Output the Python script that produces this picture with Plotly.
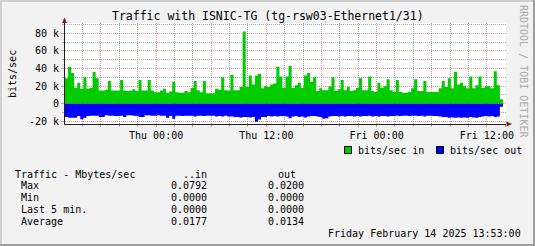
import plotly.graph_objects as go
import pandas as pd

# ---------------- data ----------------
title_text = "Traffic with ISNIC-TG (tg-rsw03-Ethernet1/31)"
start_time = "2025-02-12 14:05"
end_time = "2025-02-14 14:05"
step_minutes = 20

# bits/sec in (thousands)
green_k = [
    29, 42, 35, 18, 24, 17, 30, 17, 18, 36,
    29, 15, 15, 16, 26, 15, 15, 15, 27, 15,
    14.5, 15, 16.5, 14.5, 27, 15, 15, 27, 15, 13,
    13, 15, 17, 12.5, 14, 25, 13, 12.5, 12.5, 14.5,
    13, 18, 26, 15.5, 13, 26, 12, 12, 12, 17,
    16, 30, 15.5, 15, 33, 15.5, 15.5, 19, 82, 19,
    32, 22, 32, 34, 17.5, 20, 19, 22, 23, 42,
    31, 18, 31, 43, 18, 21, 24, 18, 32, 35,
    25, 30, 14.5, 17.5, 15.5, 15.5, 19.5, 30, 14.5, 16.5,
    27, 15.5, 19, 14.5, 15.5, 18, 29, 15.5, 15.5, 31,
    14.5, 13.5, 24, 18, 20, 28, 15.5, 13.5, 27, 13.5,
    12.5, 12.5, 13.5, 17.5, 28, 14.5, 14.5, 26, 13.5, 13.5,
    13.5, 13.5, 17.5, 26, 19, 29, 17.5, 36.5, 22, 24,
    20, 17.5, 31, 17.5, 21, 31, 18, 20, 20, 17.5,
    37, 21, 5,
]

# bits/sec out (thousands, drawn negative)
blue_k = [
    -15, -16, -16, -16, -14, -17.5, -16, -14, -13.5, -13.5,
    -13.5, -15, -15, -13, -13.5, -13.5, -14, -14, -13.5, -15,
    -13, -13, -13.5, -14, -15, -15, -13, -13, -13.5, -13.5,
    -13, -13.5, -13.5, -16, -14, -17, -13.5, -13.5, -14, -13.5,
    -13.5, -13.5, -14.5, -13.5, -13.5, -14, -13.5, -13.5, -13.5, -14.5,
    -14, -14.5, -13.5, -14.5, -14.5, -15, -15, -15.5, -15, -15,
    -15.5, -15, -20.5, -18, -15, -15, -14, -14.5, -14, -14.5,
    -14, -14, -14.5, -16.5, -14.5, -14, -15, -14.5, -15.5, -14.5,
    -14, -14, -14.5, -15, -17, -16.5, -14.5, -14, -14, -14.5,
    -14, -14.5, -14, -14, -14.5, -14, -14.5, -14, -14, -13.5,
    -14.5, -14, -14.5, -14, -14, -14.5, -14, -14, -13.5, -14,
    -13.5, -13.5, -14, -13.5, -13.5, -14, -13.5, -14.5, -13.5, -13.5,
    -14, -14, -14.5, -15, -15, -16, -15.5, -16, -15.5, -16,
    -15.5, -16, -15, -15.5, -16, -15, -14.5, -14, -14.5, -14,
    -15, -14.5, -3.5,
]

x_tick_times = ["2025-02-12 18:00", "2025-02-13 00:00", "2025-02-13 06:00", "2025-02-13 12:00",
                "2025-02-13 18:00", "2025-02-14 00:00", "2025-02-14 06:00", "2025-02-14 12:00"]
x_tick_labels = ["", "Thu 00:00", "", "Thu 12:00", "", "Fri 00:00", "", "Fri 12:00"]
y_tick_vals = [-20000, 0, 20000, 40000, 60000, 80000]
y_tick_labels = ["-20 k", "0", "20 k", "40 k", "60 k", "80 k"]
y_minor_vals = [-10000, 10000, 30000, 50000, 70000, 90000]

legend_names = ["bits/sec in", "bits/sec out"]
series_colors = ["#00CC00", "#0000FF"]
stats_header = ["Traffic - Mbytes/sec", "..in", "out"]
stats_rows = ["Max", "Min", "Last 5 min.", "Average"]
stats_in = ["0.0792", "0.0000", "0.0000", "0.0177"]
stats_out = ["0.0200", "0.0000", "0.0000", "0.0134"]
date_text = "Friday February 14 2025 13:53:00"
watermark = "RRDTOOL / TOBI OETIKER"

# ---------------- layout helpers ----------------
W, H = 535, 246
L, R, T, B = 65, 506, 23, 124
FONT = "DejaVu Sans Mono"


def px(x):
    return (x - L) / (R - L)


def py(y):
    return (B - y) / (B - T)


times = pd.date_range(start_time, periods=len(green_k) + 1, freq=f"{step_minutes}min")
green = [v * 1000 for v in green_k] + [green_k[-1] * 1000]
blue = [v * 1000 for v in blue_k] + [blue_k[-1] * 1000]

minor_x = [t for t in pd.date_range("2025-02-12 16:00", "2025-02-14 14:00", freq="2h") if t.hour % 6 != 0]

fig = go.Figure()
fig.add_trace(go.Scatter(x=times, y=green, mode="lines", line=dict(width=0, shape="hv", color=series_colors[0]),
                         fill="tozeroy", fillcolor=series_colors[0], name=legend_names[0], hoverinfo="skip"))
fig.add_trace(go.Scatter(x=times, y=blue, mode="lines", line=dict(width=0, shape="hv", color=series_colors[1]),
                         fill="tozeroy", fillcolor=series_colors[1], name=legend_names[1], hoverinfo="skip"))

GRID = "rgba(143,143,143,0.75)"
MGRID = "rgba(222,79,79,0.6)"

fig.update_layout(
    width=W, height=H, autosize=False,
    margin=dict(l=L, r=W - R, t=T, b=H - B, pad=0),
    paper_bgcolor="#F2F2F2", plot_bgcolor="#FFFFFF",
    showlegend=False,
    font=dict(family=FONT, size=10, color="#000000"),
    xaxis=dict(
        type="date", range=[start_time, end_time], automargin=False,
        tickmode="array", tickvals=x_tick_times, ticktext=x_tick_labels,
        showgrid=True, gridcolor=MGRID, griddash="1px,1px", gridwidth=1,
        ticks="outside", ticklen=2, tickcolor=MGRID,
        minor=dict(tickmode="array", tickvals=minor_x, showgrid=True, gridcolor=GRID,
                   griddash="1px,1px", gridwidth=1, ticks="outside", ticklen=2, tickcolor=GRID),
        showline=True, linecolor="#1F1F1F", linewidth=1,
        tickfont=dict(family=FONT, size=10, color="#000000"),
        zeroline=False, fixedrange=True,
    ),
    yaxis=dict(
        range=[-23000, 91800], automargin=False,
        tickmode="array", tickvals=y_tick_vals, ticktext=y_tick_labels,
        showgrid=True, gridcolor=MGRID, griddash="1px,1px", gridwidth=1,
        ticks="outside", ticklen=3, tickcolor=MGRID,
        minor=dict(tickmode="array", tickvals=y_minor_vals, showgrid=True, gridcolor=GRID,
                   griddash="1px,1px", gridwidth=1, ticks="outside", ticklen=2, tickcolor=GRID),
        showline=True, linecolor="#1F1F1F", linewidth=1,
        tickfont=dict(family=FONT, size=10, color="#000000"),
        zeroline=False, fixedrange=True,
    ),
)

annotations = []


def ann(text, x, y, xanchor="left", size=10, color="#000000", angle=0):
    annotations.append(dict(text=text, x=px(x), y=py(y), xref="paper", yref="paper",
                            xanchor=xanchor, yanchor="middle", showarrow=False,
                            borderpad=0, borderwidth=0, textangle=angle,
                            font=dict(family=FONT, size=size, color=color)))


ann(title_text, W / 2, 16.5, xanchor="center", size=11.5)
ann("bits/sec", 12, 74, xanchor="center", angle=-90)
ann(watermark, 523.5, 71.5, xanchor="center", color="#A8A8A8", angle=90)

# legend
ann(legend_names[0], 357.5, 150)
ann(legend_names[1], 449.5, 150)

# stats table
ann(stats_header[0], 15, 174)
ann(stats_header[1], 206.5, 174, xanchor="right")
ann(stats_header[2], 296, 174, xanchor="right")
row_y = [185.7, 197.5, 209.6, 221.6]
for name, vin, vout, yy in zip(stats_rows, stats_in, stats_out, row_y):
    ann(name, 21, yy)
    ann(vin, 206.5, yy, xanchor="right")
    ann(vout, 303.7, yy, xanchor="right")
ann(date_text, 521, 233.6, xanchor="right")

fig.update_layout(annotations=annotations)

shapes = []


def rect(x0, y0, x1, y1, fill, line=None):
    shapes.append(dict(type="rect", xref="paper", yref="paper", x0=px(x0), x1=px(x1), y0=py(y1), y1=py(y0),
                       fillcolor=fill, line=dict(width=1 if line else 0, color=line or fill), layer="above"))


# 3D border
rect(0, 0, W, 2, "#CFCFCF")
rect(0, 0, 2, H, "#CFCFCF")
rect(0, H - 2, W, H, "#9E9E9E")
rect(W - 2, 0, W, H, "#9E9E9E")

# legend swatches
rect(344.5, 146.5, 351.5, 153.5, series_colors[0], "#000000")
rect(436.5, 146.5, 443.5, 153.5, series_colors[1], "#000000")


def path(points, color):
    d = "M " + " L ".join(f"{px(a):.5f},{py(b):.5f}" for a, b in points) + " Z"
    shapes.append(dict(type="path", xref="paper", yref="paper", path=d, fillcolor=color,
                       line=dict(width=0, color=color), layer="above"))


ARROW = "#801F1F"
path([(62, 23), (67, 23), (64.5, 17.5)], ARROW)
path([(506.5, 121.5), (506.5, 126.5), (512, 124)], ARROW)

fig.update_layout(shapes=shapes)

fig.write_html("out.html", config={"displayModeBar": False, "staticPlot": True})
